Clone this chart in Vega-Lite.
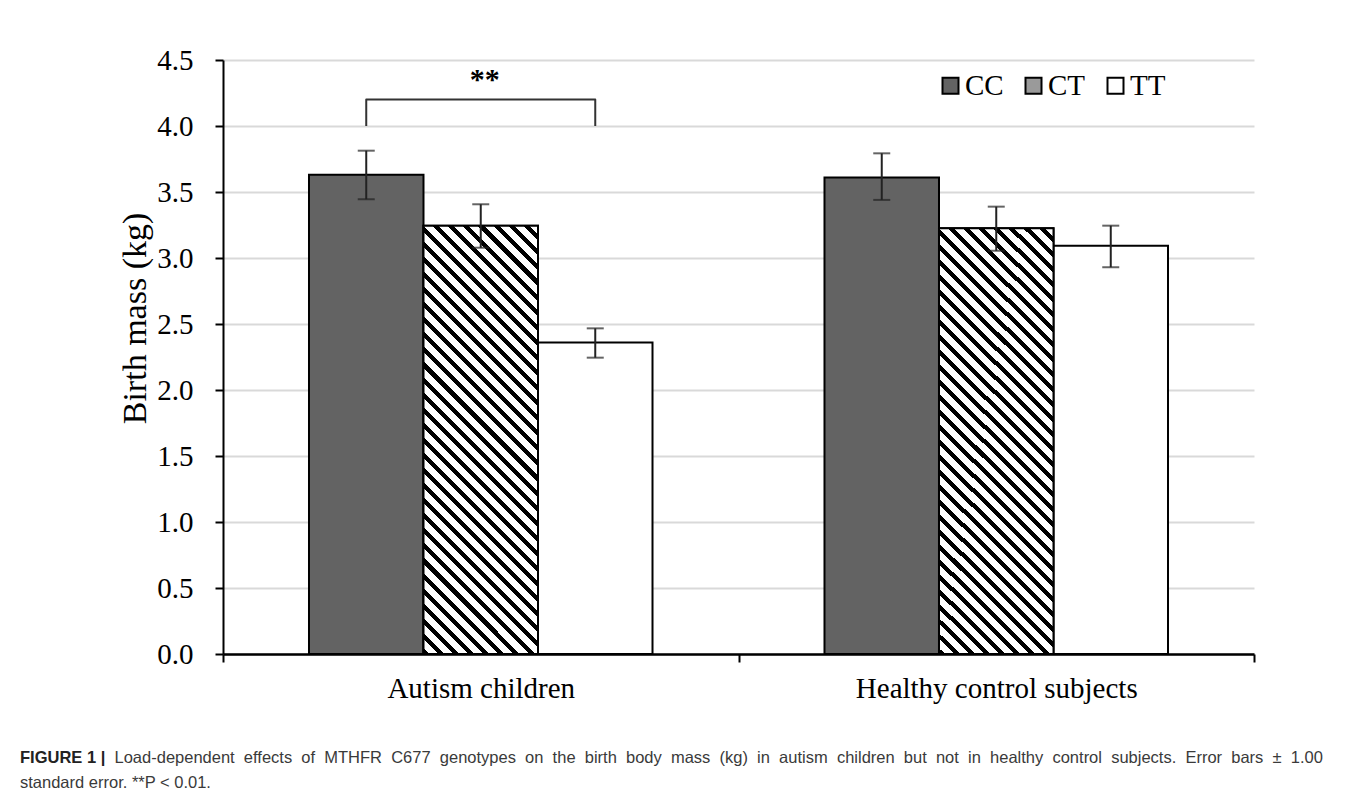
{
  "$schema": "https://vega.github.io/schema/vega-lite/v6.json",
  "width": 1031,
  "height": 594,
  "autosize": {"type": "none"},
  "padding": {"left": 223, "top": 60, "right": 103, "bottom": 150},
  "background": "white",
  "datasets": {
    "bars": [
      {"group": "Autism children", "genotype": "CC", "mass": 3.63, "lower": 3.445, "upper": 3.813},
      {"group": "Autism children", "genotype": "CT", "mass": 3.245, "lower": 3.078, "upper": 3.407},
      {"group": "Autism children", "genotype": "TT", "mass": 2.36, "lower": 2.245, "upper": 2.467},
      {"group": "Healthy control subjects", "genotype": "CC", "mass": 3.61, "lower": 3.44, "upper": 3.793},
      {"group": "Healthy control subjects", "genotype": "CT", "mass": 3.225, "lower": 3.055, "upper": 3.389},
      {"group": "Healthy control subjects", "genotype": "TT", "mass": 3.093, "lower": 2.93, "upper": 3.245}
    ],
    "bracket": [
      {"group": "Autism children", "genotype": "CC", "v": 4.0, "o": 1},
      {"group": "Autism children", "genotype": "CC", "v": 4.2, "o": 2},
      {"group": "Autism children", "genotype": "TT", "v": 4.2, "o": 3},
      {"group": "Autism children", "genotype": "TT", "v": 4.0, "o": 4}
    ],
    "sig": [{"group": "Autism children", "label": "**", "y": 4.35}]
  },
  "title": {
    "text": "FIGURE 1 |",
    "subtitle": "standard error. **P < 0.01.",
    "orient": "bottom",
    "anchor": "start",
    "frame": "group",
    "offset": 0,
    "dx": -203,
    "dy": -16,
    "font": "Liberation Sans",
    "fontSize": 16.5,
    "fontWeight": "bold",
    "color": "#222",
    "subtitleFont": "Liberation Sans",
    "subtitleFontSize": 16.5,
    "subtitleFontWeight": "normal",
    "subtitleColor": "#3a3a3a",
    "subtitlePadding": 8.5
  },
  "layer": [
    {
      "data": {"name": "bars"},
      "mark": {"type": "bar", "stroke": "#000", "strokeWidth": 2, "fillOpacity": 1},
      "encoding": {
        "x": {
          "field": "group", "type": "nominal",
          "scale": {"paddingInner": 0, "paddingOuter": 0},
          "axis": {
            "title": "Load-dependent\u00a0 effects\u00a0 of\u00a0 MTHFR\u00a0 C677\u00a0 genotypes\u00a0 on\u00a0 the\u00a0 birth\u00a0 body\u00a0 mass\u00a0 (kg)\u00a0 in\u00a0 autism\u00a0 children\u00a0 but\u00a0 not\u00a0 in\u00a0 healthy\u00a0 control\u00a0 subjects.\u00a0 Error\u00a0 bars\u00a0 ±\u00a0 1.00",
            "tickBand": "extent",
            "labelAngle": 0,
            "labelLimit": 600,
            "grid": false,
            "domainColor": "#000", "domainWidth": 2.5,
            "tickColor": "#000", "tickWidth": 2, "tickSize": 8,
            "labelFont": "Liberation Serif", "labelFontSize": 29, "labelColor": "#000", "labelPadding": 12,
            "titleFont": "Liberation Sans", "titleFontSize": 16.5, "titleFontWeight": "normal", "titleColor": "#3a3a3a",
            "titleLimit": 2000,
            "titleX": -109, "titleY": 108, "titleAlign": "left", "titleBaseline": "alphabetic", "titleAnchor": "start"
          }
        },
        "xOffset": {"field": "genotype", "type": "nominal", "scale": {"paddingInner": 0, "paddingOuter": 0.751}},
        "y": {
          "field": "mass", "type": "quantitative",
          "scale": {"domain": [0, 4.5], "nice": false},
          "axis": {
            "title": "Birth mass (kg)",
            "values": [0, 0.5, 1, 1.5, 2, 2.5, 3, 3.5, 4, 4.5],
            "format": ".1f",
            "grid": true, "gridColor": "#d9d9d9", "gridWidth": 2,
            "domainColor": "#000", "domainWidth": 2,
            "tickColor": "#000", "tickWidth": 2, "tickSize": 8,
            "labelFont": "Liberation Serif", "labelFontSize": 29, "labelColor": "#000", "labelPadding": 22,
            "titleFont": "Liberation Serif", "titleFontSize": 34, "titleFontWeight": "normal", "titleColor": "#000",
            "titleX": -78, "titleY": 258, "titleBaseline": "alphabetic", "titleAngle": 270, "titleAlign": "center"
          }
        },
        "fill": {
          "field": "genotype", "type": "nominal",
          "scale": {"domain": ["CC", "CT", "TT"], "range": ["#636363", "#9a9a9a", "#ffffff"]},
          "legend": {
            "orient": "none", "legendX": 713, "legendY": 11, "direction": "horizontal", "title": null,
            "symbolType": "square", "symbolSize": 256, "symbolStrokeWidth": 2, "symbolStrokeColor": "#000", "symbolOpacity": 1,
            "labelFont": "Liberation Serif", "labelFontSize": 29, "labelColor": "#000", "labelOffset": 0,
            "columnPadding": 15, "padding": 0
          }
        }
      }
    },
    {
      "data": {"name": "bars"},
      "transform": [{"filter": "datum.genotype === 'CT'"}],
      "mark": {
        "type": "bar", "stroke": "#000", "strokeWidth": 2,
        "fill": {
          "gradient": "linear", "x1": 0, "y1": 1, "x2": 0.3162, "y2": -0.1827,
          "stops": [
            {"offset": 0, "color": "#000"}, {"offset": 0.0111, "color": "#000"}, {"offset": 0.0111, "color": "#fff"}, {"offset": 0.0278, "color": "#fff"},
            {"offset": 0.0278, "color": "#000"}, {"offset": 0.0389, "color": "#000"}, {"offset": 0.0389, "color": "#fff"}, {"offset": 0.0556, "color": "#fff"},
            {"offset": 0.0556, "color": "#000"}, {"offset": 0.0667, "color": "#000"}, {"offset": 0.0667, "color": "#fff"}, {"offset": 0.0833, "color": "#fff"},
            {"offset": 0.0833, "color": "#000"}, {"offset": 0.0944, "color": "#000"}, {"offset": 0.0944, "color": "#fff"}, {"offset": 0.1111, "color": "#fff"},
            {"offset": 0.1111, "color": "#000"}, {"offset": 0.1222, "color": "#000"}, {"offset": 0.1222, "color": "#fff"}, {"offset": 0.1389, "color": "#fff"},
            {"offset": 0.1389, "color": "#000"}, {"offset": 0.15, "color": "#000"}, {"offset": 0.15, "color": "#fff"}, {"offset": 0.1667, "color": "#fff"},
            {"offset": 0.1667, "color": "#000"}, {"offset": 0.1778, "color": "#000"}, {"offset": 0.1778, "color": "#fff"}, {"offset": 0.1944, "color": "#fff"},
            {"offset": 0.1944, "color": "#000"}, {"offset": 0.2056, "color": "#000"}, {"offset": 0.2056, "color": "#fff"}, {"offset": 0.2222, "color": "#fff"},
            {"offset": 0.2222, "color": "#000"}, {"offset": 0.2333, "color": "#000"}, {"offset": 0.2333, "color": "#fff"}, {"offset": 0.25, "color": "#fff"},
            {"offset": 0.25, "color": "#000"}, {"offset": 0.2611, "color": "#000"}, {"offset": 0.2611, "color": "#fff"}, {"offset": 0.2778, "color": "#fff"},
            {"offset": 0.2778, "color": "#000"}, {"offset": 0.2889, "color": "#000"}, {"offset": 0.2889, "color": "#fff"}, {"offset": 0.3056, "color": "#fff"},
            {"offset": 0.3056, "color": "#000"}, {"offset": 0.3167, "color": "#000"}, {"offset": 0.3167, "color": "#fff"}, {"offset": 0.3333, "color": "#fff"},
            {"offset": 0.3333, "color": "#000"}, {"offset": 0.3444, "color": "#000"}, {"offset": 0.3444, "color": "#fff"}, {"offset": 0.3611, "color": "#fff"},
            {"offset": 0.3611, "color": "#000"}, {"offset": 0.3722, "color": "#000"}, {"offset": 0.3722, "color": "#fff"}, {"offset": 0.3889, "color": "#fff"},
            {"offset": 0.3889, "color": "#000"}, {"offset": 0.4, "color": "#000"}, {"offset": 0.4, "color": "#fff"}, {"offset": 0.4167, "color": "#fff"},
            {"offset": 0.4167, "color": "#000"}, {"offset": 0.4278, "color": "#000"}, {"offset": 0.4278, "color": "#fff"}, {"offset": 0.4444, "color": "#fff"},
            {"offset": 0.4444, "color": "#000"}, {"offset": 0.4556, "color": "#000"}, {"offset": 0.4556, "color": "#fff"}, {"offset": 0.4722, "color": "#fff"},
            {"offset": 0.4722, "color": "#000"}, {"offset": 0.4833, "color": "#000"}, {"offset": 0.4833, "color": "#fff"}, {"offset": 0.5, "color": "#fff"},
            {"offset": 0.5, "color": "#000"}, {"offset": 0.5111, "color": "#000"}, {"offset": 0.5111, "color": "#fff"}, {"offset": 0.5278, "color": "#fff"},
            {"offset": 0.5278, "color": "#000"}, {"offset": 0.5389, "color": "#000"}, {"offset": 0.5389, "color": "#fff"}, {"offset": 0.5556, "color": "#fff"},
            {"offset": 0.5556, "color": "#000"}, {"offset": 0.5667, "color": "#000"}, {"offset": 0.5667, "color": "#fff"}, {"offset": 0.5833, "color": "#fff"},
            {"offset": 0.5833, "color": "#000"}, {"offset": 0.5944, "color": "#000"}, {"offset": 0.5944, "color": "#fff"}, {"offset": 0.6111, "color": "#fff"},
            {"offset": 0.6111, "color": "#000"}, {"offset": 0.6222, "color": "#000"}, {"offset": 0.6222, "color": "#fff"}, {"offset": 0.6389, "color": "#fff"},
            {"offset": 0.6389, "color": "#000"}, {"offset": 0.65, "color": "#000"}, {"offset": 0.65, "color": "#fff"}, {"offset": 0.6667, "color": "#fff"},
            {"offset": 0.6667, "color": "#000"}, {"offset": 0.6778, "color": "#000"}, {"offset": 0.6778, "color": "#fff"}, {"offset": 0.6944, "color": "#fff"},
            {"offset": 0.6944, "color": "#000"}, {"offset": 0.7056, "color": "#000"}, {"offset": 0.7056, "color": "#fff"}, {"offset": 0.7222, "color": "#fff"},
            {"offset": 0.7222, "color": "#000"}, {"offset": 0.7333, "color": "#000"}, {"offset": 0.7333, "color": "#fff"}, {"offset": 0.75, "color": "#fff"},
            {"offset": 0.75, "color": "#000"}, {"offset": 0.7611, "color": "#000"}, {"offset": 0.7611, "color": "#fff"}, {"offset": 0.7778, "color": "#fff"},
            {"offset": 0.7778, "color": "#000"}, {"offset": 0.7889, "color": "#000"}, {"offset": 0.7889, "color": "#fff"}, {"offset": 0.8056, "color": "#fff"},
            {"offset": 0.8056, "color": "#000"}, {"offset": 0.8167, "color": "#000"}, {"offset": 0.8167, "color": "#fff"}, {"offset": 0.8333, "color": "#fff"},
            {"offset": 0.8333, "color": "#000"}, {"offset": 0.8444, "color": "#000"}, {"offset": 0.8444, "color": "#fff"}, {"offset": 0.8611, "color": "#fff"},
            {"offset": 0.8611, "color": "#000"}, {"offset": 0.8722, "color": "#000"}, {"offset": 0.8722, "color": "#fff"}, {"offset": 0.8889, "color": "#fff"},
            {"offset": 0.8889, "color": "#000"}, {"offset": 0.9, "color": "#000"}, {"offset": 0.9, "color": "#fff"}, {"offset": 0.9167, "color": "#fff"},
            {"offset": 0.9167, "color": "#000"}, {"offset": 0.9278, "color": "#000"}, {"offset": 0.9278, "color": "#fff"}, {"offset": 0.9444, "color": "#fff"},
            {"offset": 0.9444, "color": "#000"}, {"offset": 0.9556, "color": "#000"}, {"offset": 0.9556, "color": "#fff"}, {"offset": 0.9722, "color": "#fff"},
            {"offset": 0.9722, "color": "#000"}, {"offset": 0.9833, "color": "#000"}, {"offset": 0.9833, "color": "#fff"}, {"offset": 1, "color": "#fff"}
          ]
        }
      },
      "encoding": {
        "x": {"field": "group", "type": "nominal"},
        "xOffset": {"field": "genotype", "type": "nominal"},
        "y": {"field": "mass", "type": "quantitative"}
      }
    },
    {
      "data": {"name": "bars"},
      "mark": {"type": "rule", "color": "#222", "strokeWidth": 2},
      "encoding": {
        "x": {"field": "group", "type": "nominal"},
        "xOffset": {"field": "genotype", "type": "nominal"},
        "y": {"field": "lower", "type": "quantitative"},
        "y2": {"field": "upper"}
      }
    },
    {
      "data": {"name": "bars"},
      "mark": {"type": "tick", "color": "#222", "thickness": 2, "size": 17},
      "encoding": {
        "x": {"field": "group", "type": "nominal"},
        "xOffset": {"field": "genotype", "type": "nominal"},
        "y": {"field": "upper", "type": "quantitative"}
      }
    },
    {
      "data": {"name": "bars"},
      "mark": {"type": "tick", "color": "#222", "thickness": 2, "size": 17},
      "encoding": {
        "x": {"field": "group", "type": "nominal"},
        "xOffset": {"field": "genotype", "type": "nominal"},
        "y": {"field": "lower", "type": "quantitative"}
      }
    },
    {
      "data": {"name": "bracket"},
      "mark": {"type": "line", "color": "#333", "strokeWidth": 2, "strokeJoin": "round"},
      "encoding": {
        "x": {"field": "group", "type": "nominal"},
        "xOffset": {"field": "genotype", "type": "nominal"},
        "y": {"field": "v", "type": "quantitative"},
        "order": {"field": "o", "type": "quantitative"}
      }
    },
    {
      "data": {"name": "sig"},
      "mark": {"type": "text", "font": "Liberation Serif", "fontSize": 30, "fontWeight": "bold", "baseline": "middle", "color": "#000", "dx": 4},
      "encoding": {
        "x": {"field": "group", "type": "nominal"},
        "y": {"field": "y", "type": "quantitative"},
        "text": {"field": "label"}
      }
    }
  ],
  "config": {
    "view": {"stroke": null}
  }
}
